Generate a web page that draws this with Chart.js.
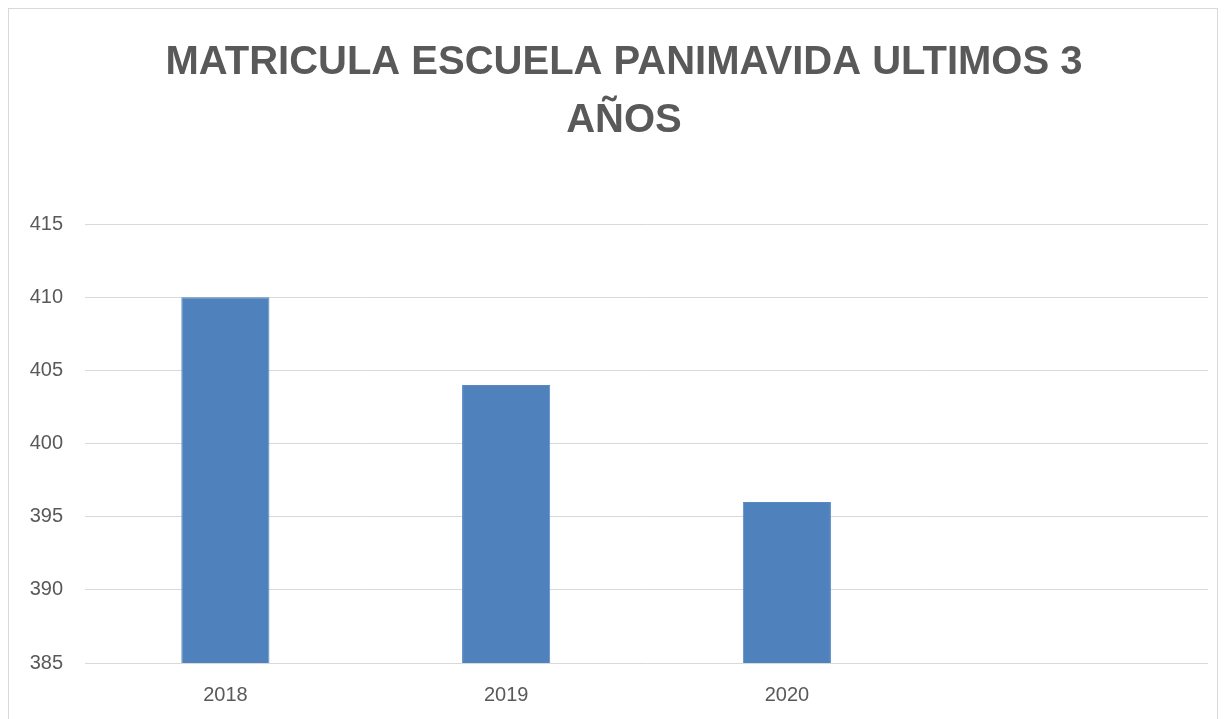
<!DOCTYPE html>
<html>
<head>
<meta charset="utf-8">
<script src="https://cdn.jsdelivr.net/npm/chart.js@4"></script>
<style>
  body { margin: 0; background: #fff; }
  #box {
    position: absolute; left: 8px; top: 8px;
    width: 1208px; height: 720px;
    border: 1px solid #d9d9d9;
  }
</style>
</head>
<body>
<div id="box"><canvas id="myChart" width="1208" height="710"></canvas></div>
<script>
const years = ['2018', '2019', '2020', ''];
const matricula = [410, 404, 396, null];
const yTicks = [385, 390, 395, 400, 405, 410, 415];
const titleLines = ['MATRICULA ESCUELA PANIMAVIDA ULTIMOS 3', 'AÑOS'];

// nudge the title a bit to the right, like the original
const titleShift = {
  id: 'titleShift',
  afterLayout(chart) {
    if (chart.titleBlock) chart.titleBlock.left += 31;
  }
};

let ctx = document.getElementById('myChart').getContext('2d');
let barChart = new Chart(ctx, {
  type: 'bar',
  data: {
    labels: years,
    datasets: [{
      label: 'Matricula',
      data: matricula,
      backgroundColor: '#4f81bd',
      borderColor: '#5a8ac4',
      borderWidth: 1,
      barPercentage: 0.314,
      categoryPercentage: 1
    }]
  },
  options: {
    responsive: false,
    animation: false,
    layout: { padding: { top: 0, right: 9, left: 0, bottom: 0 } },
    plugins: {
      legend: { display: false },
      tooltip: { enabled: false },
      title: {
        display: true,
        text: titleLines,
        color: '#595959',
        font: { family: 'Liberation Sans', size: 40, weight: 'bold', lineHeight: 1.45 },
        padding: { top: 25, bottom: 74 }
      }
    },
    scales: {
      x: {
        grid: { display: false },
        border: { display: false },
        ticks: { color: '#595959', font: { family: 'Liberation Sans', size: 20 }, padding: 12 },
        afterFit: (s) => { s.height = 56; }
      },
      y: {
        min: 385,
        max: 415,
        afterBuildTicks: (s) => { s.ticks = yTicks.map(v => ({ value: v })); },
        grid: { color: '#d9d9d9', lineWidth: 1, drawTicks: false },
        border: { display: false },
        ticks: { color: '#595959', font: { family: 'Liberation Sans', size: 20 }, padding: 22 },
        afterFit: (s) => { s.width = 76; }
      }
    }
  },
  plugins: [titleShift]
});
</script>
</body>
</html>
